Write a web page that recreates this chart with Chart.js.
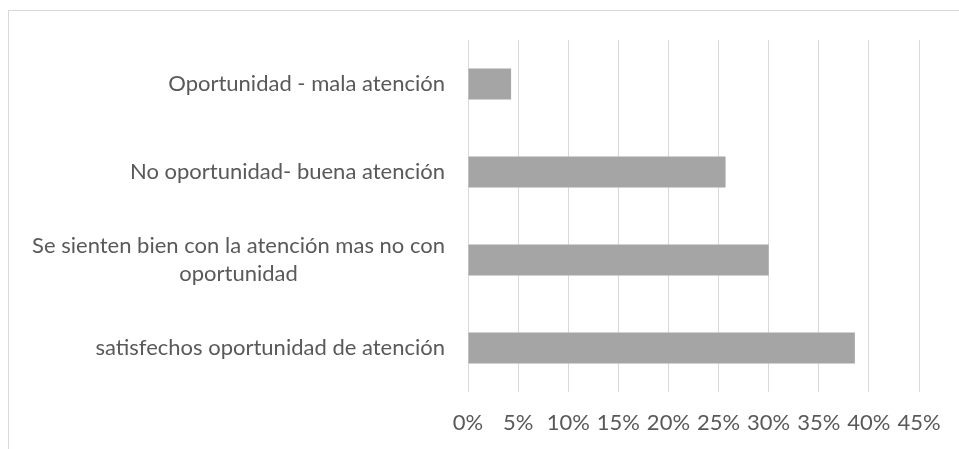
<!DOCTYPE html>
<html>
<head>
<meta charset="utf-8">
<script src="https://cdn.jsdelivr.net/npm/chart.js@4.4.1/dist/chart.umd.min.js"></script>
<style>
  html, body { margin: 0; padding: 0; background: #fff; overflow: hidden; }
  #frame { position: absolute; left: 8px; top: 10px; width: 1000px; height: 500px; border: 1px solid #d9d9d9; }
  #wrap { position: absolute; left: 0; top: 0; width: 959px; height: 449px; }
</style>
</head>
<body>
<div id="frame"></div>
<div id="wrap"><canvas id="chart"></canvas></div>
<script>
const categories = [
  'Oportunidad - mala atención',
  'No oportunidad- buena atención',
  ['Se sienten bien con la atención mas no con', 'oportunidad'],
  'satisfechos oportunidad de atención'
];
const values = [4.3, 25.7, 30.0, 38.6];
const tickMax = 45;
const tickStep = 5;

const FONT = 'Lato, "Open Sans", sans-serif';
const TEXT = '#595959';
const LABEL_SIZE = 22;

// category labels drawn by hand so the wrapped one is centred, like Excel does
const centredLabels = {
  id: 'centredLabels',
  afterDraw(chart) {
    const y = chart.scales.y;
    const ctx = chart.ctx;
    const right = y.right - y.options.ticks.padding;
    ctx.save();
    ctx.font = LABEL_SIZE + 'px ' + FONT;
    ctx.fillStyle = TEXT;
    ctx.textBaseline = 'middle';
    ctx.textAlign = 'center';
    categories.forEach((lab, i) => {
      const lines = Array.isArray(lab) ? lab : [lab];
      const w = Math.max(...lines.map(l => ctx.measureText(l).width));
      const cy = y.getPixelForTick(i);
      const lh = 28;
      lines.forEach((l, k) => {
        ctx.fillText(l, right - w / 2, cy + (k - (lines.length - 1) / 2) * lh);
      });
    });
    ctx.restore();
  }
};

new Chart(document.getElementById('chart'), {
  type: 'bar',
  data: {
    labels: categories,
    datasets: [{
      data: values,
      backgroundColor: '#a5a5a5',
      borderWidth: 0,
      categoryPercentage: 1,
      barPercentage: 0.35
    }]
  },
  options: {
    indexAxis: 'y',
    responsive: true,
    maintainAspectRatio: false,
    animation: false,
    layout: { padding: { left: 0, right: 40, top: 40, bottom: 10 } },
    plugins: { legend: { display: false }, tooltip: { enabled: false } },
    scales: {
      x: {
        min: 0,
        max: tickMax,
        ticks: {
          stepSize: tickStep,
          callback: v => v + '%',
          color: TEXT,
          font: { family: FONT, size: LABEL_SIZE },
          padding: 18,
          maxRotation: 0
        },
        grid: { color: '#d9d9d9', drawTicks: false },
        border: { display: false },
        afterFit: s => { s.height = 47; }
      },
      y: {
        ticks: {
          color: 'rgba(0,0,0,0)',
          font: { family: FONT, size: LABEL_SIZE },
          padding: 23
        },
        grid: { display: false },
        border: { display: false },
        afterFit: s => { s.width = 468; }
      }
    }
  },
  plugins: [centredLabels]
});
</script>
</body>
</html>
